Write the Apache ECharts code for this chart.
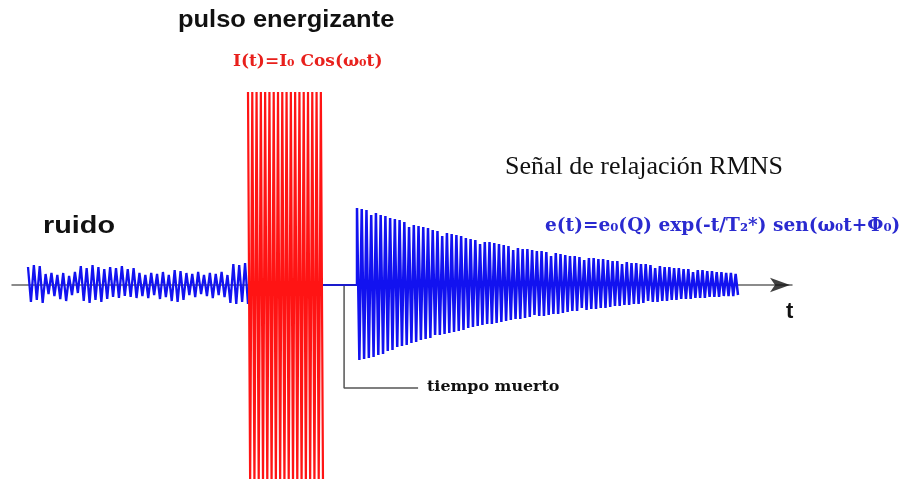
<!DOCTYPE html>
<html>
<head>
<meta charset="utf-8">
<script src="https://cdn.jsdelivr.net/npm/echarts@6/dist/echarts.min.js"></script>
<style>
  html, body { margin: 0; padding: 0; background: #ffffff; }
  #chart { width: 904px; height: 479px; }
</style>
</head>
<body>
<div id="chart"></div>
<script>
// ---- Signal record (time in arbitrary units along t, amplitude in arbitrary units) ----
const timeAxis = [0, 780];
const amplitudeAxis = [-194, 285];

// Time windows of each stage of the experiment
const noiseWindow = [16, 236];
const pulseWindow = [236, 311];
const fidWindow = [345, 726];

// Receiver noise before the pulse: successive crests and troughs
const noisePeaks = [
  18, -17, 20, -15, 19, -18, 11, -9, 12, -11, 10, -14, 12, -16, 9, -10, 13, -8,
  19, -16, 17, -18, 20, -15, 18, -17, 16, -14, 18, -12, 17, -13, 19, -11, 16, -12,
  17, -13, 12, -11, 10, -13, 12, -10, 11, -14, 13, -12, 10, -16, 15, -17, 14, -15,
  12, -10, 11, -12, 13, -9, 10, -11, 12, -13, 11, -10, 13, -12, 10, -18, 21, -19,
  20, -17, 22, -19
];

// Energising pulse I(t) = I0 cos(w0 t): crests and troughs
const pulsePeaks = [
  193, -200, 193, -200, 193, -200, 193, -200, 193, -200, 193, -200, 193, -200,
  193, -200, 193, -200, 193, -200, 193, -200, 193, -200, 193, -200, 193, -200,
  193, -200, 193, -200, 193, -200, 193, -200
];

// Relaxation signal e(t) = e0 exp(-t/T2*) sen(w0 t + phi0): [crest, trough] per cycle
const fidPeaks = [
  [77, -75], [76, -74], [75, -73], [70, -72], [72, -70], [70, -69], [69, -66], [67, -65], [66, -62], [65, -61],
  [63, -60], [58, -58], [60, -57], [59, -55], [58, -54], [57, -53], [55, -50], [54, -50], [49, -49], [52, -48],
  [51, -47], [50, -46], [49, -45], [47, -43], [46, -42], [45, -41], [41, -40], [43, -39], [43, -39], [42, -38],
  [41, -37], [40, -36], [39, -35], [35, -34], [37, -34], [36, -33], [36, -32], [35, -30], [34, -31], [34, -31],
  [33, -30], [29, -29], [32, -29], [31, -28], [30, -27], [29, -26], [29, -26], [28, -23], [25, -25], [27, -24],
  [27, -24], [26, -23], [26, -23], [25, -22], [24, -21], [24, -21], [21, -20], [23, -20], [22, -19], [22, -19],
  [21, -18], [21, -16], [20, -17], [17, -17], [19, -16], [18, -16], [18, -15], [17, -15], [17, -14], [16, -14],
  [16, -14], [13, -13], [15, -13], [15, -13], [14, -12], [14, -12], [13, -12], [13, -11], [12, -11], [12, -11],
  [11, -10]
];

// ---- Drawing ----
// Lay successive extrema evenly across a time window
function alongWindow(win, values) {
  const step = (win[1] - win[0]) / (values.length - 1);
  return values.map((v, i) => [win[0] + i * step, v]);
}

const noiseData = alongWindow(noiseWindow, noisePeaks);
const pulseData = alongWindow(pulseWindow, pulsePeaks);
const fidData = [[fidWindow[0], 0]].concat(alongWindow(fidWindow, fidPeaks.flat()));
const deadTimeData = [[pulseWindow[1], 0], [fidWindow[0], 0]];

// Leader line from the dead-time interval down to its caption
const leaderT = pulseWindow[1] + 0.62 * (fidWindow[0] - pulseWindow[1]);
const leaderData = [[leaderT, 0], [leaderT, -103], [leaderT + 74, -103]];

const blue = '#1212f0';
const red = '#ff1414';
const serifBold = '"DejaVu Serif", "Liberation Serif", serif';

function label(text, x, y, font, fill, scaleX) {
  return {
    type: 'text', x: x, y: y, scaleX: scaleX || 1, z: 100,
    style: {
      text: text, font: font, fill: fill,
      align: 'left', verticalAlign: 'middle',
      textAlign: 'left', textVerticalAlign: 'middle'
    }
  };
}

const chart = echarts.init(document.getElementById('chart'), null, { renderer: 'canvas' });
chart.setOption({
  animation: false,
  backgroundColor: '#ffffff',
  grid: { left: 12, right: 112, top: 0, bottom: 0, containLabel: false },
  xAxis: {
    type: 'value', min: timeAxis[0], max: timeAxis[1],
    axisLine: { show: true, onZero: true, lineStyle: { color: '#666666', width: 1.5 } },
    axisTick: { show: false }, axisLabel: { show: false }, splitLine: { show: false }
  },
  yAxis: {
    type: 'value', min: amplitudeAxis[0], max: amplitudeAxis[1], show: false,
    splitLine: { show: false }
  },
  series: [
    {
      name: 'ruido', type: 'line', data: noiseData, showSymbol: false, z: 3,
      lineStyle: { color: blue, width: 2.3, join: 'bevel' }
    },
    {
      name: 'pulso energizante', type: 'line', data: pulseData, showSymbol: false, z: 4,
      lineStyle: { color: red, width: 2.2, join: 'bevel' }
    },
    {
      name: 'tiempo muerto', type: 'line', data: deadTimeData, showSymbol: false, z: 3,
      lineStyle: { color: '#1a1acc', width: 2 }
    },
    {
      name: 'Señal de relajación RMNS', type: 'line', data: fidData, showSymbol: false, z: 3,
      lineStyle: { color: blue, width: 2.5, join: 'bevel' }
    },
    {
      name: 'leader', type: 'line', data: leaderData, showSymbol: false, z: 2,
      lineStyle: { color: '#555555', width: 1.5 }
    },
    {
      name: 'arrow', type: 'scatter', data: [[timeAxis[1] - 2, 0]], z: 5,
      symbol: 'arrow', symbolSize: [11, 20], symbolRotate: -90,
      itemStyle: { color: '#111111' }
    }
  ],
  graphic: [
    label('pulso energizante', 178, 20, 'bold 24px "Liberation Sans", Arial, sans-serif', '#111111', 1.06),
    label('I(t)=I\u2080 Cos(\u03c9\u2080t)', 233, 62, 'bold 17px ' + serifBold, '#e8201c'),
    label('Señal de relajación RMNS', 505, 167, '26px "Liberation Serif", "Times New Roman", serif', '#111111'),
    label('ruido', 43, 226, 'bold 24px "Liberation Sans", Arial, sans-serif', '#111111', 1.2),
    label('e(t)=e\u2080(Q) exp(-t/T\u2082*) sen(\u03c9\u2080t+\u03a6\u2080)', 545, 226, 'bold 18px ' + serifBold, '#2a2ad0', 1.03),
    label('tiempo muerto', 427, 387, 'bold 15px ' + serifBold, '#111111', 1.06),
    label('t', 786, 312, 'bold 22px "Liberation Sans", Arial, sans-serif', '#111111')
  ]
});
</script>
</body>
</html>
